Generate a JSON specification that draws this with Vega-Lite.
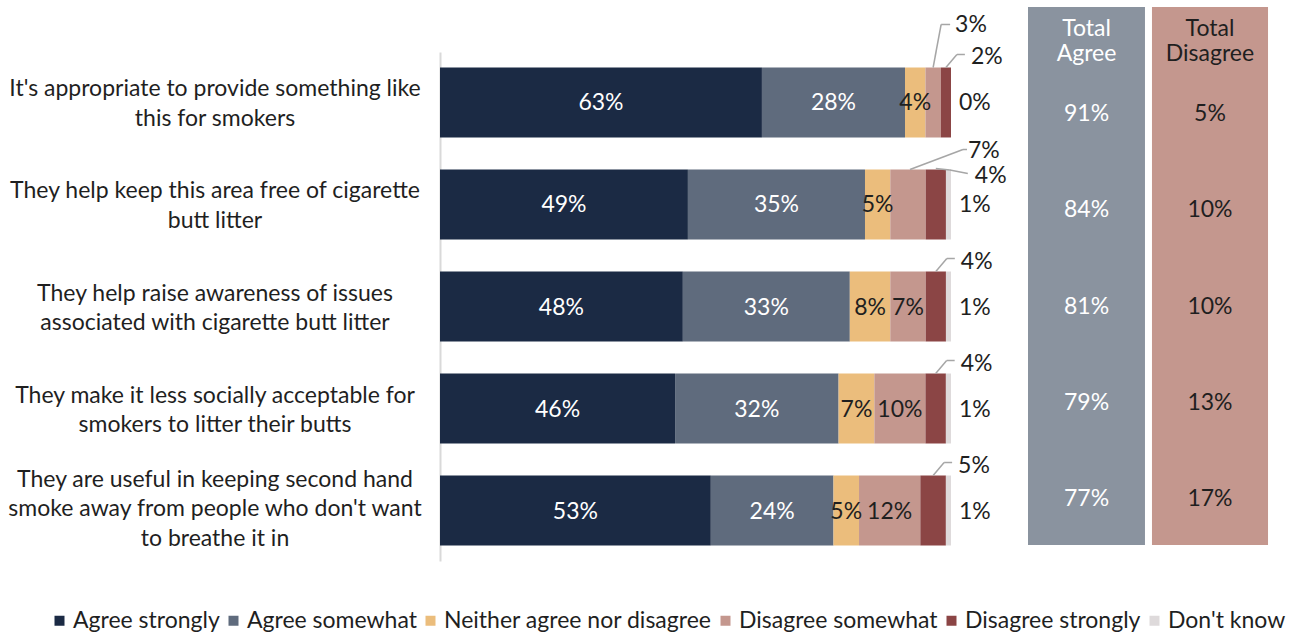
{
  "$schema": "https://vega.github.io/schema/vega-lite/v6.json",
  "autosize": "none",
  "width": 511,
  "height": 509,
  "padding": {"left": 440, "top": 52, "right": 340, "bottom": 74},
  "background": "white",
  "config": {"font": "Lato", "view": {"stroke": null}},
  "datasets": {
    "survey": [
      {"q": "It's appropriate to provide something like this for smokers", "cat": "Agree strongly", "value": 63},
      {"q": "It's appropriate to provide something like this for smokers", "cat": "Agree somewhat", "value": 28},
      {"q": "It's appropriate to provide something like this for smokers", "cat": "Neither agree nor disagree", "value": 4},
      {"q": "It's appropriate to provide something like this for smokers", "cat": "Disagree somewhat", "value": 3},
      {"q": "It's appropriate to provide something like this for smokers", "cat": "Disagree strongly", "value": 2},
      {"q": "It's appropriate to provide something like this for smokers", "cat": "Don't know", "value": 0},
      {"q": "They help keep this area free of cigarette butt litter", "cat": "Agree strongly", "value": 49},
      {"q": "They help keep this area free of cigarette butt litter", "cat": "Agree somewhat", "value": 35},
      {"q": "They help keep this area free of cigarette butt litter", "cat": "Neither agree nor disagree", "value": 5},
      {"q": "They help keep this area free of cigarette butt litter", "cat": "Disagree somewhat", "value": 7},
      {"q": "They help keep this area free of cigarette butt litter", "cat": "Disagree strongly", "value": 4},
      {"q": "They help keep this area free of cigarette butt litter", "cat": "Don't know", "value": 1},
      {"q": "They help raise awareness of issues associated with cigarette butt litter", "cat": "Agree strongly", "value": 48},
      {"q": "They help raise awareness of issues associated with cigarette butt litter", "cat": "Agree somewhat", "value": 33},
      {"q": "They help raise awareness of issues associated with cigarette butt litter", "cat": "Neither agree nor disagree", "value": 8},
      {"q": "They help raise awareness of issues associated with cigarette butt litter", "cat": "Disagree somewhat", "value": 7},
      {"q": "They help raise awareness of issues associated with cigarette butt litter", "cat": "Disagree strongly", "value": 4},
      {"q": "They help raise awareness of issues associated with cigarette butt litter", "cat": "Don't know", "value": 1},
      {"q": "They make it less socially acceptable for smokers to litter their butts", "cat": "Agree strongly", "value": 46},
      {"q": "They make it less socially acceptable for smokers to litter their butts", "cat": "Agree somewhat", "value": 32},
      {"q": "They make it less socially acceptable for smokers to litter their butts", "cat": "Neither agree nor disagree", "value": 7},
      {"q": "They make it less socially acceptable for smokers to litter their butts", "cat": "Disagree somewhat", "value": 10},
      {"q": "They make it less socially acceptable for smokers to litter their butts", "cat": "Disagree strongly", "value": 4},
      {"q": "They make it less socially acceptable for smokers to litter their butts", "cat": "Don't know", "value": 1},
      {"q": "They are useful in keeping second hand smoke away from people who don't want to breathe it in", "cat": "Agree strongly", "value": 53},
      {"q": "They are useful in keeping second hand smoke away from people who don't want to breathe it in", "cat": "Agree somewhat", "value": 24},
      {"q": "They are useful in keeping second hand smoke away from people who don't want to breathe it in", "cat": "Neither agree nor disagree", "value": 5},
      {"q": "They are useful in keeping second hand smoke away from people who don't want to breathe it in", "cat": "Disagree somewhat", "value": 12},
      {"q": "They are useful in keeping second hand smoke away from people who don't want to breathe it in", "cat": "Disagree strongly", "value": 5},
      {"q": "They are useful in keeping second hand smoke away from people who don't want to breathe it in", "cat": "Don't know", "value": 1}
    ],
    "totals": [
      {"q": "It's appropriate to provide something like this for smokers", "agree": 91, "disagree": 5},
      {"q": "They help keep this area free of cigarette butt litter", "agree": 84, "disagree": 10},
      {"q": "They help raise awareness of issues associated with cigarette butt litter", "agree": 81, "disagree": 10},
      {"q": "They make it less socially acceptable for smokers to litter their butts", "agree": 79, "disagree": 13},
      {"q": "They are useful in keeping second hand smoke away from people who don't want to breathe it in", "agree": 77, "disagree": 17}
    ]
  },
  "layer": [
    {
      "data": {"name": "survey"},
      "transform": [
        {"calculate": "indexof(['Agree strongly','Agree somewhat','Neither agree nor disagree','Disagree somewhat','Disagree strongly',\"Don't know\"], datum.cat)", "as": "ord"},
        {"stack": "value", "groupby": ["q"], "sort": [{"field": "ord", "order": "ascending"}], "offset": "normalize", "as": ["x0", "x1"]},
        {"calculate": "(datum.x0 + datum.x1) / 2", "as": "mid"},
        {"calculate": "datum.value + '%'", "as": "label"}
      ],
      "layer": [
        {
          "mark": {"type": "bar"},
          "encoding": {
            "y": {
              "field": "q", "type": "nominal",
              "scale": {
                "domain": [
                  "It's appropriate to provide something like this for smokers",
                  "They help keep this area free of cigarette butt litter",
                  "They help raise awareness of issues associated with cigarette butt litter",
                  "They make it less socially acceptable for smokers to litter their butts",
                  "They are useful in keeping second hand smoke away from people who don't want to breathe it in"
                ],
                "paddingInner": 0.314, "paddingOuter": 0.152
              },
              "axis": {"title": null, "ticks": false, "labels": false, "domainColor": "#d9d9d9", "domainWidth": 2}
            },
            "x": {"field": "x0", "type": "quantitative", "scale": {"domain": [0, 1], "nice": false}, "axis": null},
            "x2": {"field": "x1"},
            "color": {
              "field": "cat", "type": "nominal",
              "scale": {
                "domain": ["Agree strongly", "Agree somewhat", "Neither agree nor disagree", "Disagree somewhat", "Disagree strongly", "Don't know"],
                "range": ["#1b2a44", "#5f6b7d", "#ebbd7c", "#c4978e", "#8b4545", "#dedadb"]
              },
              "legend": {
                "title": null, "orient": "none", "legendX": -392, "legendY": 557, "direction": "horizontal",
                "symbolType": "square", "symbolSize": 100, "symbolStrokeWidth": 0, "labelFontSize": 23,
                "labelColor": "#1f1f1f", "labelLimit": 400, "columnPadding": 2, "labelOffset": 2
              }
            }
          }
        },
        {
          "transform": [
            {"filter": "datum.ord == 0 && indexof(datum.q,'useful') < 0"},
            {"calculate": "indexof(datum.q,'appropriate') >= 0 ? [\"It's appropriate to provide something like\", 'this for smokers'] : indexof(datum.q,'free of') >= 0 ? ['They help keep this area free of cigarette', 'butt litter'] : indexof(datum.q,'awareness') >= 0 ? ['They help raise awareness of issues', 'associated with cigarette butt litter'] : ['They make it less socially acceptable for', 'smokers to litter their butts']", "as": "lines"}
          ],
          "mark": {"type": "text", "fontSize": 23, "lineHeight": 29.5, "align": "center", "baseline": "middle", "color": "#1f1f1f", "dy": -13},
          "encoding": {
            "x": {"datum": -0.4403, "type": "quantitative"},
            "y": {"field": "q", "type": "nominal"},
            "text": {"field": "lines"}
          }
        },
        {
          "transform": [
            {"filter": "datum.ord == 0 && indexof(datum.q,'useful') >= 0"},
            {"calculate": "['They are useful in keeping second hand', \"smoke away from people who don't want\", 'to breathe it in']", "as": "lines"}
          ],
          "mark": {"type": "text", "fontSize": 23, "lineHeight": 29.5, "align": "center", "baseline": "middle", "color": "#1f1f1f", "dy": -31},
          "encoding": {
            "x": {"datum": -0.4403, "type": "quantitative"},
            "y": {"field": "q", "type": "nominal"},
            "text": {"field": "lines"}
          }
        },
        {
          "transform": [{"filter": "datum.ord <= 2 || (datum.ord == 3 && indexof(datum.q,'appropriate') < 0 && indexof(datum.q,'free of') < 0)"}],
          "mark": {"type": "text", "fontSize": 23, "align": "center", "baseline": "middle", "dy": 1},
          "encoding": {
            "x": {"field": "mid", "type": "quantitative"},
            "y": {"field": "q", "type": "nominal"},
            "text": {"field": "label"},
            "color": {"condition": {"test": "datum.ord < 2", "value": "#ffffff"}, "value": "#1f1f1f"}
          }
        },
        {
          "transform": [{"filter": "datum.ord == 4 && indexof(datum.q,'free of') < 0"}],
          "layer": [
            {"mark": {"type": "rule", "color": "#a6a6a6", "strokeWidth": 1.5, "yOffset": -35, "y2Offset": -48, "x2Offset": 11},
             "encoding": {"x": {"field": "mid", "type": "quantitative"}, "x2": {"field": "mid"}, "y": {"field": "q", "type": "nominal"}, "y2": {"field": "q"}}},
            {"mark": {"type": "rule", "color": "#a6a6a6", "strokeWidth": 1.5, "yOffset": -48, "y2Offset": -48, "xOffset": 11, "x2Offset": 19},
             "encoding": {"x": {"field": "mid", "type": "quantitative"}, "x2": {"field": "mid"}, "y": {"field": "q", "type": "nominal"}, "y2": {"field": "q"}}},
            {"mark": {"type": "text", "fontSize": 23, "align": "left", "baseline": "middle", "dx": 25, "dy": -45, "color": "#1f1f1f"},
             "encoding": {"x": {"field": "mid", "type": "quantitative"}, "y": {"field": "q", "type": "nominal"}, "text": {"field": "label"}}}
          ]
        },
        {
          "transform": [{"filter": "datum.ord == 3 && indexof(datum.q,'appropriate') >= 0"}],
          "layer": [
            {"mark": {"type": "rule", "color": "#a6a6a6", "strokeWidth": 1.5, "yOffset": -35, "y2Offset": -78, "x2Offset": 8},
             "encoding": {"x": {"field": "mid", "type": "quantitative"}, "x2": {"field": "mid"}, "y": {"field": "q", "type": "nominal"}, "y2": {"field": "q"}}},
            {"mark": {"type": "rule", "color": "#a6a6a6", "strokeWidth": 1.5, "yOffset": -78, "y2Offset": -78, "xOffset": 8, "x2Offset": 17},
             "encoding": {"x": {"field": "mid", "type": "quantitative"}, "x2": {"field": "mid"}, "y": {"field": "q", "type": "nominal"}, "y2": {"field": "q"}}},
            {"mark": {"type": "text", "fontSize": 23, "align": "left", "baseline": "middle", "dx": 22, "dy": -77, "color": "#1f1f1f"},
             "encoding": {"x": {"field": "mid", "type": "quantitative"}, "y": {"field": "q", "type": "nominal"}, "text": {"field": "label"}}}
          ]
        },
        {
          "transform": [{"filter": "datum.ord == 3 && indexof(datum.q,'free of') >= 0"}],
          "layer": [
            {"mark": {"type": "rule", "color": "#a6a6a6", "strokeWidth": 1.5, "yOffset": -35, "y2Offset": -55, "xOffset": 2, "x2Offset": 55},
             "encoding": {"x": {"field": "mid", "type": "quantitative"}, "x2": {"field": "mid"}, "y": {"field": "q", "type": "nominal"}, "y2": {"field": "q"}}},
            {"mark": {"type": "rule", "color": "#a6a6a6", "strokeWidth": 1.5, "yOffset": -55, "y2Offset": -55, "xOffset": 55, "x2Offset": 59},
             "encoding": {"x": {"field": "mid", "type": "quantitative"}, "x2": {"field": "mid"}, "y": {"field": "q", "type": "nominal"}, "y2": {"field": "q"}}},
            {"mark": {"type": "text", "fontSize": 23, "align": "left", "baseline": "middle", "dx": 60, "dy": -53, "color": "#1f1f1f"},
             "encoding": {"x": {"field": "mid", "type": "quantitative"}, "y": {"field": "q", "type": "nominal"}, "text": {"field": "label"}}}
          ]
        },
        {
          "transform": [{"filter": "datum.ord == 4 && indexof(datum.q,'free of') >= 0"}],
          "layer": [
            {"mark": {"type": "rule", "color": "#a6a6a6", "strokeWidth": 1.5, "yOffset": -36, "y2Offset": -34.5, "x2Offset": 14},
             "encoding": {"x": {"field": "mid", "type": "quantitative"}, "x2": {"field": "mid"}, "y": {"field": "q", "type": "nominal"}, "y2": {"field": "q"}}},
            {"mark": {"type": "rule", "color": "#a6a6a6", "strokeWidth": 1.5, "yOffset": -34.5, "y2Offset": -31, "xOffset": 14, "x2Offset": 32},
             "encoding": {"x": {"field": "mid", "type": "quantitative"}, "x2": {"field": "mid"}, "y": {"field": "q", "type": "nominal"}, "y2": {"field": "q"}}},
            {"mark": {"type": "text", "fontSize": 23, "align": "left", "baseline": "middle", "dx": 39, "dy": -28.5, "color": "#1f1f1f"},
             "encoding": {"x": {"field": "mid", "type": "quantitative"}, "y": {"field": "q", "type": "nominal"}, "text": {"field": "label"}}}
          ]
        },
        {
          "transform": [{"filter": "datum.ord == 5"}],
          "mark": {"type": "text", "fontSize": 23, "align": "left", "baseline": "middle", "dx": 8, "dy": 1, "color": "#1f1f1f"},
          "encoding": {"x": {"field": "x1", "type": "quantitative"}, "y": {"field": "q", "type": "nominal"}, "text": {"field": "label"}}
        }
      ]
    },
    {
      "data": {"values": [{}]},
      "layer": [
        {
          "mark": {"type": "rect", "color": "#8a939f", "yOffset": -16, "y2Offset": -45},
          "encoding": {
            "x": {"datum": 1.1507, "type": "quantitative"}, "x2": {"datum": 1.3796},
            "y": {"datum": 0, "type": "quantitative", "scale": {"domain": [0, 1], "nice": false, "zero": false}, "axis": null},
            "y2": {"datum": 1}
          }
        },
        {
          "mark": {"type": "rect", "color": "#c4978e", "yOffset": -16, "y2Offset": -45},
          "encoding": {
            "x": {"datum": 1.3933, "type": "quantitative"}, "x2": {"datum": 1.6204},
            "y": {"datum": 0, "type": "quantitative"},
            "y2": {"datum": 1}
          }
        }
      ]
    },
    {
      "data": {"name": "totals"},
      "transform": [
        {"calculate": "datum.agree + '%'", "as": "agreeLabel"},
        {"calculate": "datum.disagree + '%'", "as": "disagreeLabel"}
      ],
      "layer": [
        {
          "mark": {"type": "text", "fontSize": 23, "align": "center", "baseline": "middle", "color": "#ffffff"},
          "encoding": {
            "x": {"datum": 1.2652, "type": "quantitative"},
            "y": {
              "field": "q", "type": "nominal",
              "scale": {
                "type": "point", "padding": 0.651,
                "domain": [
                  "It's appropriate to provide something like this for smokers",
                  "They help keep this area free of cigarette butt litter",
                  "They help raise awareness of issues associated with cigarette butt litter",
                  "They make it less socially acceptable for smokers to litter their butts",
                  "They are useful in keeping second hand smoke away from people who don't want to breathe it in"
                ]
              },
              "axis": null
            },
            "text": {"field": "agreeLabel"}
          }
        },
        {
          "mark": {"type": "text", "fontSize": 23, "align": "center", "baseline": "middle", "color": "#1f1f1f"},
          "encoding": {
            "x": {"datum": 1.5068, "type": "quantitative"},
            "y": {"field": "q", "type": "nominal"},
            "text": {"field": "disagreeLabel"}
          }
        },
        {
          "data": {"values": [{}]},
          "mark": {"type": "text", "fontSize": 23, "lineHeight": 25, "align": "center", "baseline": "middle", "color": "#ffffff", "dy": -85},
          "encoding": {
            "x": {"datum": 1.2652, "type": "quantitative"},
            "y": {"datum": "It's appropriate to provide something like this for smokers", "type": "nominal"},
            "text": {"value": ["Total", "Agree"]}
          }
        },
        {
          "data": {"values": [{}]},
          "mark": {"type": "text", "fontSize": 23, "lineHeight": 25, "align": "center", "baseline": "middle", "color": "#1f1f1f", "dy": -85},
          "encoding": {
            "x": {"datum": 1.5068, "type": "quantitative"},
            "y": {"datum": "It's appropriate to provide something like this for smokers", "type": "nominal"},
            "text": {"value": ["Total", "Disagree"]}
          }
        }
      ]
    }
  ],
  "resolve": {"scale": {"y": "independent"}}
}
